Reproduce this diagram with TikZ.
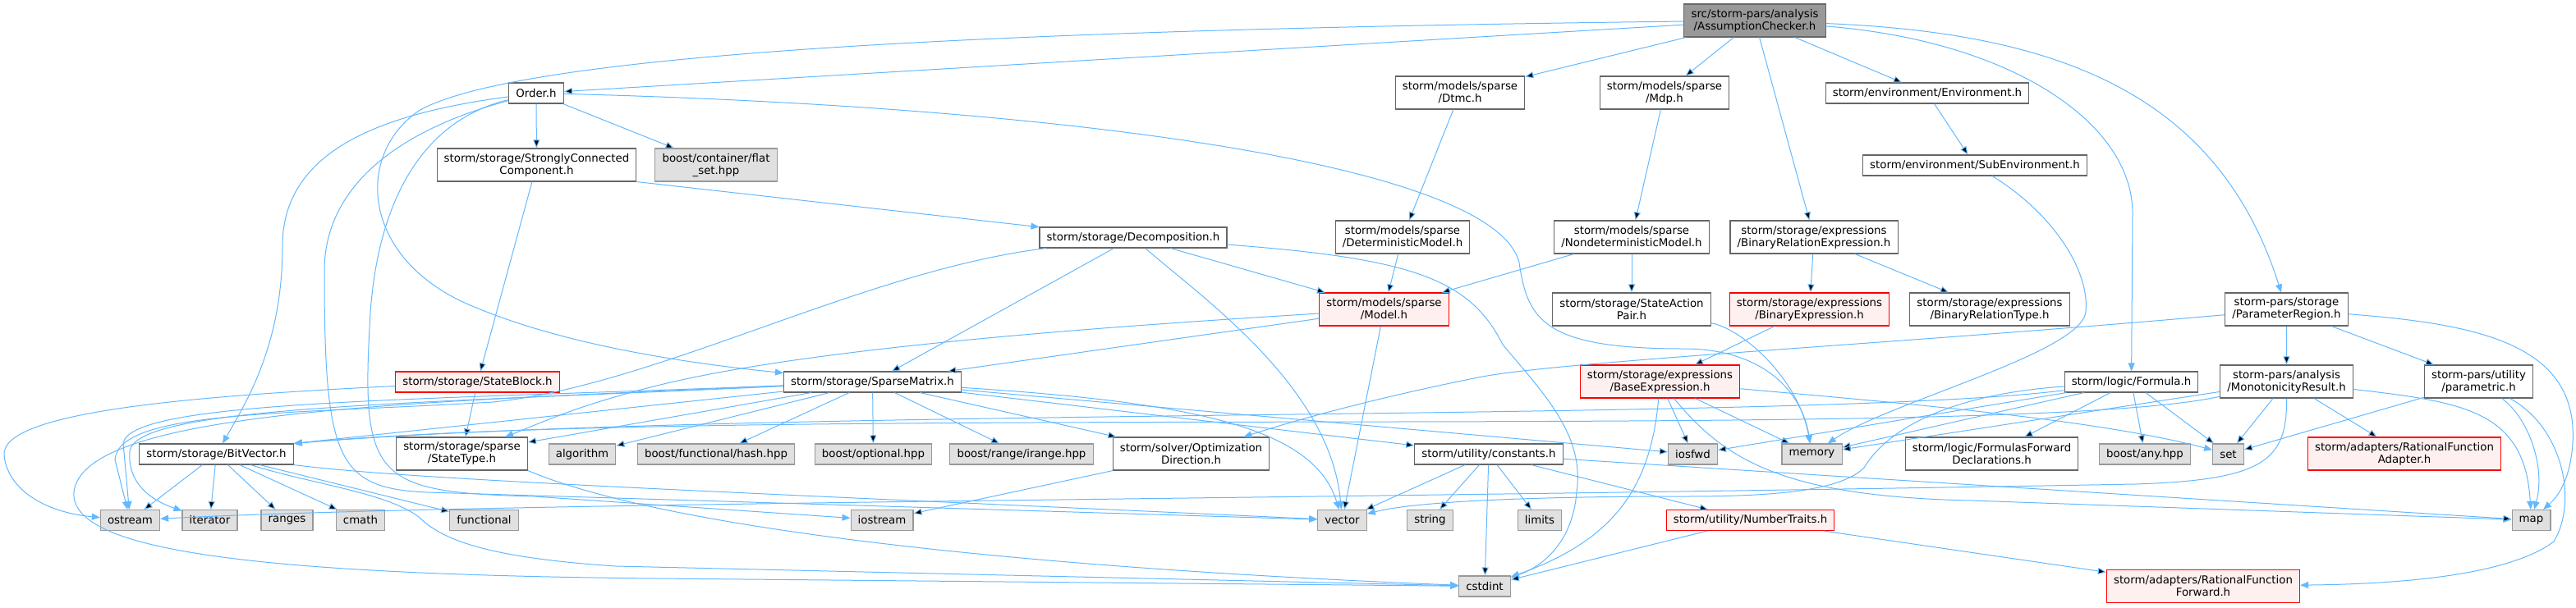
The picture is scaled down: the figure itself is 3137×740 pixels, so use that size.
\documentclass[tikz,border=0pt]{standalone}
\usepackage{fontspec}
\setmainfont{DejaVu Sans}
\usetikzlibrary{arrows.meta}
\definecolor{incblue}{HTML}{63B8FF}
\definecolor{hdrline}{HTML}{666666}
\definecolor{sysfill}{HTML}{E0E0E0}
\definecolor{sysline}{HTML}{999999}
\definecolor{truncfill}{HTML}{FFF0F0}
\definecolor{rootfill}{HTML}{999999}

\begin{document}
\begin{tikzpicture}[x=0.75pt,y=-0.75pt,
  hdr/.style={draw=hdrline,fill=white,line width=0.8pt,inner xsep=6.5pt,inner ysep=1pt,minimum height=18.75pt,align=center,font=\fontsize{10pt}{11.25pt}\selectfont},
  sys/.style={hdr,draw=sysline,fill=sysfill},
  trunc/.style={hdr,draw=red,fill=truncfill},
  root/.style={hdr,fill=rootfill},
  two/.style={minimum height=30pt},
  inc/.style={draw=incblue,line width=0.75pt,-{Triangle[length=7.5pt,width=6pt]}}]
\useasboundingbox (0,0) rectangle (3137,740);

\node[root,two] (ACh) at (2137,25) {src/storm-pars/analysis\\/AssumptionChecker.h};
\node[hdr] (Order) at (653,113.5) {Order.h};
\node[hdr,two] (SCC) at (653.5,201) {storm/storage/StronglyConnected\\Component.h};
\node[sys,two] (flatset) at (872,201) {boost/container/flat\\\_set.hpp};
\node[hdr,two] (Dtmc) at (1778,113) {storm/models/sparse\\/Dtmc.h};
\node[hdr,two] (Mdp) at (2027,113) {storm/models/sparse\\/Mdp.h};
\node[hdr] (Env) at (2347,113.5) {storm/environment/Environment.h};
\node[hdr] (SubEnv) at (2405,201.5) {storm/environment/SubEnvironment.h};
\node[hdr] (Decomp) at (1380,289.5) {storm/storage/Decomposition.h};
\node[hdr,two] (DetModel) at (1708,289) {storm/models/sparse\\/DeterministicModel.h};
\node[hdr,two] (NondetModel) at (1987,289) {storm/models/sparse\\/NondeterministicModel.h};
\node[hdr,two] (BinRelExpr) at (2209,289) {storm/storage/expressions\\/BinaryRelationExpression.h};
\node[trunc,two] (Model) at (1685.5,377) {storm/models/sparse\\/Model.h};
\node[hdr,two] (SAPair) at (1987,377) {storm/storage/StateAction\\Pair.h};
\node[trunc,two] (BinExpr) at (2203.5,377) {storm/storage/expressions\\/BinaryExpression.h};
\node[hdr,two] (BinRelType) at (2423,377) {storm/storage/expressions\\/BinaryRelationType.h};
\node[hdr,two] (ParamRegion) at (2784.5,377) {storm-pars/storage\\/ParameterRegion.h};
\node[trunc] (StateBlock) at (581.5,465.5) {storm/storage/StateBlock.h};
\node[hdr] (SparseMatrix) at (1062.5,465.5) {storm/storage/SparseMatrix.h};
\node[trunc,two] (BaseExpr) at (2021.5,465) {storm/storage/expressions\\/BaseExpression.h};
\node[hdr] (Formula) at (2595.5,465.5) {storm/logic/Formula.h};
\node[hdr,two] (MonoResult) at (2784.5,465) {storm-pars/analysis\\/MonotonicityResult.h};
\node[hdr,two] (parametric) at (3018.5,465) {storm-pars/utility\\/parametric.h};
\node[hdr] (BitVector) at (263.5,553.5) {storm/storage/BitVector.h};
\node[hdr,two] (StateType) at (562.5,553) {storm/storage/sparse\\/StateType.h};
\node[sys] (algorithm) at (709,553.5) {algorithm};
\node[sys] (hash) at (872,553.5) {boost/functional/hash.hpp};
\node[sys] (optional) at (1063.5,553.5) {boost/optional.hpp};
\node[sys] (irange) at (1244,553.5) {boost/range/irange.hpp};
\node[hdr,two] (OptDir) at (1450.5,553) {storm/solver/Optimization\\Direction.h};
\node[hdr] (constants) at (1813,553.5) {storm/utility/constants.h};
\node[sys] (iosfwd) at (2061.5,553.5) {iosfwd};
\node[sys] (memory) at (2206.5,553.5) {memory};
\node[hdr,two] (FFD) at (2425.5,553) {storm/logic/FormulasForward\\Declarations.h};
\node[sys] (anyhpp) at (2612,553.5) {boost/any.hpp};
\node[sys] (set) at (2713.5,553.5) {set};
\node[trunc,two] (RFAdapter) at (2928,553) {storm/adapters/RationalFunction\\Adapter.h};
\node[sys] (ostream) at (158.5,634) {ostream};
\node[sys] (iterator) at (255.5,634) {iterator};
\node[sys] (ranges) at (349.5,634) {ranges};
\node[sys] (cmath) at (439,634) {cmath};
\node[sys] (functional) at (589.5,634) {functional};
\node[sys] (iostream) at (1074,634) {iostream};
\node[sys] (vector) at (1634.5,634) {vector};
\node[sys] (string) at (1741.5,634) {string};
\node[sys] (limits) at (1875,634) {limits};
\node[trunc] (NumberTraits) at (2131.5,634) {storm/utility/NumberTraits.h};
\node[sys] (map) at (3082.5,634) {map};
\node[sys] (cstdint) at (1808,714.5) {cstdint};
\node[trunc,two] (RFForward) at (2683,714.5) {storm/adapters/RationalFunction\\Forward.h};

\path[inc] (ACh) edge (Order) edge (Dtmc) edge (Mdp) edge (Env) edge (BinRelExpr);
\draw[inc] (ACh) .. controls (1300,35) and (640,60) .. (510,135) .. controls (430,190) and (440,320) .. (580,375) .. controls (700,425) and (860,445) .. (SparseMatrix);
\draw[inc] (ACh) .. controls (2450,50) and (2597,150) .. (2597,260) -- (Formula);
\draw[inc] (ACh) .. controls (2500,40) and (2700,110) .. (ParamRegion);

\path[inc] (Order) edge (SCC) edge (flatset);
\draw[inc] (Order) .. controls (1300,130) and (1820,200) .. (1850,320) .. controls (1860,390) and (1880,425) .. (2050,425) .. controls (2150,425) and (2195,480) .. (memory);
\draw[inc] (Order) .. controls (450,140) and (344,190) .. (344,300) .. controls (344,420) and (300,490) .. (BitVector);
\draw[inc] (Order) .. controls (480,160) and (395,230) .. (395,330) .. controls (395,560) and (410,595) .. (520,600) -- (vector);
\draw[inc] (Order) .. controls (500,150) and (455,270) .. (450,400) .. controls (440,585) and (460,600) .. (650,605) -- (iostream);

\path[inc] (SCC) edge (StateBlock);
\draw[inc] (SCC.south east) -- (Decomp);
\path[inc] (Decomp) edge (SparseMatrix) edge (Model);
\draw[inc] (Decomp) .. controls (1460,360) and (1620,470) .. (vector);
\draw[inc] (Decomp) .. controls (1720,315) and (1790,340) .. (1830,420) .. controls (1880,480) and (1930,530) .. (1920,600) .. controls (1915,660) and (1880,690) .. (cstdint);
\draw[inc] (Decomp) .. controls (1050,330) and (800,470) .. (600,490) .. controls (350,505) and (145,500) .. (140,560) -- (ostream);

\path[inc] (Dtmc) edge (DetModel);
\path[inc] (DetModel) edge (Model);
\path[inc] (Mdp) edge (NondetModel);
\path[inc] (NondetModel) edge (Model) edge (SAPair);
\draw[inc] (SAPair) .. controls (2120,400) and (2190,460) .. (memory);
\path[inc] (Env) edge (SubEnv);
\draw[inc] (SubEnv) .. controls (2500,260) and (2545,330) .. (2540,380) .. controls (2535,430) and (2300,490) .. (memory);
\path[inc] (BinRelExpr) edge (BinExpr) edge (BinRelType);
\path[inc] (BinExpr) edge (BaseExpr);
\path[inc] (BaseExpr) edge (iosfwd) edge (memory);
\draw[inc] (BaseExpr) .. controls (2300,490) and (2550,510) .. (set);
\draw[inc] (BaseExpr) .. controls (2010,600) and (1960,660) .. (cstdint);
\draw[inc] (BaseExpr) .. controls (2100,560) and (2170,605) .. (2400,610) -- (map);

\path[inc] (Model) edge (SparseMatrix) edge (vector);
\draw[inc] (Model) .. controls (1400,395) and (1000,420) .. (800,470) .. controls (700,495) and (660,515) .. (StateType);
\path[inc] (StateBlock) edge (StateType);
\draw[inc] (StateBlock) .. controls (250,482) and (0,500) .. (5,555) .. controls (10,600) and (60,625) .. (ostream);
\draw[inc] (StateType.south east) .. controls (800,640) and (1200,690) .. (cstdint);

\path[inc] (SparseMatrix) edge (BitVector.north east) edge (StateType) edge (algorithm) edge (hash) edge (optional) edge (irange) edge (OptDir) edge (constants) edge (iosfwd);
\draw[inc] (SparseMatrix) .. controls (1450,490) and (1600,520) .. (vector);
\draw[inc] (SparseMatrix) .. controls (500,488) and (160,488) .. (150,540) -- (ostream);
\draw[inc] (SparseMatrix) .. controls (500,492) and (165,495) .. (158,550) .. controls (155,590) and (185,610) .. (iterator);
\draw[inc] (SparseMatrix) .. controls (500,490) and (100,500) .. (90,600) .. controls (85,670) and (300,700) .. (800,705) -- (cstdint);

\path[inc] (BitVector) edge (ostream) edge (iterator) edge (ranges) edge (cmath) edge (functional);
\draw[inc] (BitVector.south east) .. controls (500,585) and (900,600) .. (vector);
\draw[inc] (BitVector) .. controls (380,590) and (470,600) .. (510,630) .. controls (540,660) and (600,680) .. (750,690) -- (cstdint);

\path[inc] (OptDir) edge (iostream);
\path[inc] (constants) edge (vector) edge (string) edge (limits) edge (cstdint) edge (NumberTraits) edge (map);
\path[inc] (NumberTraits) edge (cstdint) edge (RFForward);

\path[inc] (Formula) edge (FFD) edge (anyhpp) edge (set) edge (memory) edge (iosfwd);
\draw[inc] (Formula) .. controls (2200,515) and (900,495) .. (BitVector.north east);
\draw[inc] (Formula) .. controls (2380,480) and (2300,520) .. (2270,570) .. controls (2240,600) and (2150,605) .. (2050,605) .. controls (1850,605) and (1720,612) .. (vector);

\path[inc] (ParamRegion) edge (MonoResult) edge (parametric);
\draw[inc] (ParamRegion) .. controls (2300,420) and (1900,440) .. (1800,460) .. controls (1700,480) and (1600,505) .. (OptDir);
\draw[inc] (ParamRegion) .. controls (3020,395) and (3140,420) .. (3133,540) .. controls (3130,585) and (3115,605) .. (map);

\path[inc] (MonoResult) edge (set) edge (RFAdapter) edge (memory);
\draw[inc] (MonoResult) .. controls (2450,540) and (900,490) .. (BitVector.north east);
\draw[inc] (MonoResult) .. controls (3000,490) and (3075,500) .. (map);
\draw[inc] (MonoResult) .. controls (2785,560) and (2760,585) .. (2600,590) .. controls (1500,610) and (600,612) .. (ostream);

\path[inc] (parametric) edge (set);
\draw[inc] (parametric) .. controls (3080,510) and (3100,570) .. (map);
\draw[inc] (parametric) .. controls (3120,520) and (3140,610) .. (3110,660) .. controls (3050,705) and (2900,712) .. (RFForward);
\end{tikzpicture}
\end{document}
